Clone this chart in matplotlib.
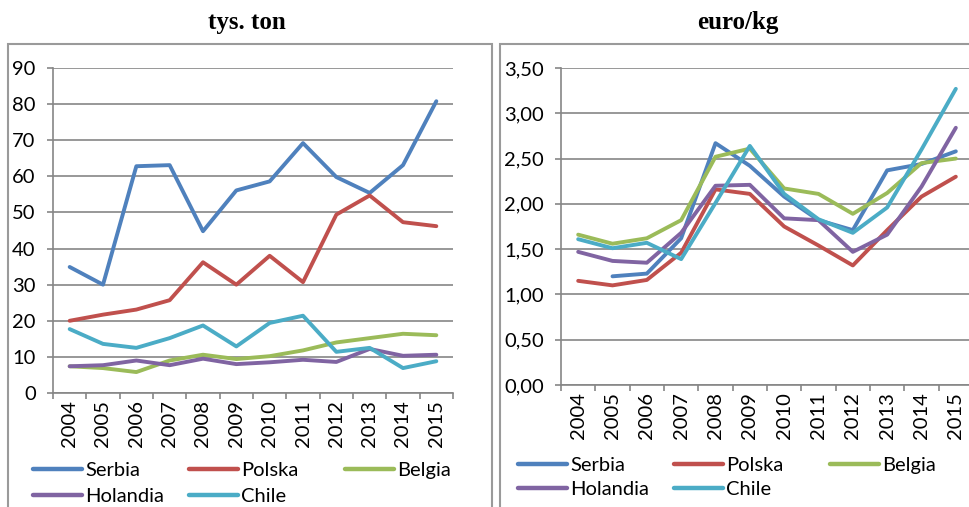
import numpy as np
import matplotlib
matplotlib.use('Agg')
import matplotlib.pyplot as plt
from matplotlib.patches import Rectangle
from matplotlib.lines import Line2D

# dane
years = ['2004', '2005', '2006', '2007', '2008', '2009', '2010', '2011', '2012', '2013', '2014', '2015']
countries = ['Serbia', 'Polska', 'Belgia', 'Holandia', 'Chile']
colors = ['#4F81BD', '#C0504D', '#9BBB59', '#8064A2', '#4BACC6']

# tys. ton
serbia_t = [34.9, 30.0, 62.8, 63.1, 44.8, 56.1, 58.6, 69.2, 59.8, 55.4, 63.1, 80.8]
polska_t = [20.0, 21.7, 23.1, 25.7, 36.2, 30.0, 38.0, 30.7, 49.4, 54.7, 47.3, 46.2]
belgia_t = [7.4, 6.9, 5.8, 9.0, 10.6, 9.4, 10.2, 11.8, 14.0, 15.2, 16.4, 16.0]
holandia_t = [7.4, 7.7, 9.0, 7.7, 9.5, 8.0, 8.5, 9.2, 8.6, 12.2, 10.3, 10.6]
chile_t = [17.7, 13.6, 12.5, 15.2, 18.7, 12.9, 19.4, 21.4, 11.4, 12.5, 6.9, 8.8]

# euro/kg
serbia_p = [np.nan, 1.20, 1.23, 1.62, 2.67, 2.42, 2.08, 1.82, 1.71, 2.37, 2.44, 2.58]
polska_p = [1.15, 1.10, 1.16, 1.46, 2.16, 2.11, 1.75, 1.54, 1.32, 1.71, 2.08, 2.30]
belgia_p = [1.66, 1.56, 1.62, 1.82, 2.52, 2.61, 2.17, 2.11, 1.89, 2.12, 2.45, 2.50]
holandia_p = [1.47, 1.37, 1.35, 1.68, 2.20, 2.21, 1.84, 1.82, 1.47, 1.66, 2.19, 2.84]
chile_p = [1.61, 1.51, 1.57, 1.39, 2.01, 2.64, 2.11, 1.83, 1.68, 1.96, 2.60, 3.27]

tons = [serbia_t, polska_t, belgia_t, holandia_t, chile_t]
prices = [serbia_p, polska_p, belgia_p, holandia_p, chile_p]

W, H = 969, 507
plt.rcParams['font.family'] = ['Lato', 'DejaVu Sans']
fig = plt.figure(figsize=(W / 100, H / 100), dpi=100)

# ramki
fig.patches.append(Rectangle((8 / W, -0.1), 484 / W, 1.1 - 44 / H, transform=fig.transFigure,
                             fill=False, edgecolor='#9a9a9a', lw=1.5))
fig.patches.append(Rectangle((500 / W, -0.1), 0.6, 1.1 - 44 / H, transform=fig.transFigure,
                             fill=False, edgecolor='#9a9a9a', lw=1.5))

fig.text(247 / W, 1 - 22 / H, 'tys. ton', family='Liberation Serif', weight='bold',
         fontsize=18, ha='center', va='center')
fig.text(738 / W, 1 - 22 / H, 'euro/kg', family='Liberation Serif', weight='bold',
         fontsize=18, ha='center', va='center')

gc = '#868686'
fs = 14.5


def setup(ax, ymax, step, fmt):
    x = np.arange(len(years))
    ax.set_xlim(-0.5, len(years) - 0.5)
    ax.set_ylim(0, ymax)
    ax.set_yticks(np.arange(0, ymax + step / 2, step))
    ax.set_yticklabels([fmt(v) for v in np.arange(0, ymax + step / 2, step)])
    ax.set_xticks(np.arange(-0.5, len(years), 1))
    ax.set_xticklabels([])
    ax.set_xticks(x, minor=True)
    ax.set_xticklabels(years, minor=True, rotation=90)
    ax.tick_params(axis='x', which='major', length=4.5, color=gc, width=1.2)
    ax.tick_params(axis='x', which='minor', length=0, labelsize=fs, pad=5)
    ax.tick_params(axis='y', length=4.5, color=gc, width=1.2, labelsize=fs, pad=8)
    ax.grid(axis='y', color=gc, lw=1.2)
    ax.set_axisbelow(True)
    for sp in ['top', 'right']:
        ax.spines[sp].set_visible(False)
    for sp in ['left', 'bottom']:
        ax.spines[sp].set_color(gc)
        ax.spines[sp].set_linewidth(1.2)


ax1 = fig.add_axes([53 / W, 1 - 393 / H, 400 / W, 325 / H])
setup(ax1, 90, 10, lambda v: '%d' % v)
for d, c in zip(tons, colors):
    ax1.plot(np.arange(len(years)), d, color=c, lw=2.8, solid_capstyle='round')

ax2 = fig.add_axes([561 / W, 1 - 385 / H, 412 / W, 317 / H])
setup(ax2, 3.5, 0.5, lambda v: ('%.2f' % v).replace('.', ','))
for d, c in zip(prices, colors):
    ax2.plot(np.arange(len(years)), d, color=c, lw=2.8, solid_capstyle='round')

# legenda
handles = [Line2D([], [], color=c, lw=3.2, solid_capstyle='round') for c in colors]
cols = [[0, 3], [1, 4], [2]]
for x0, ytop, sp in [(33, 462, 0.42), (518, 457, 0.32)]:
    for k, idx in enumerate(cols):
        fig.legend([handles[i] for i in idx], [countries[i] for i in idx],
                   loc='upper left', bbox_to_anchor=((x0 + k * 156) / W, 1 - ytop / H),
                   frameon=False, fontsize=fs, handlelength=2.45, handletextpad=0.15,
                   borderpad=0, borderaxespad=0, labelspacing=sp)

fig.savefig('out.png', dpi=100)
